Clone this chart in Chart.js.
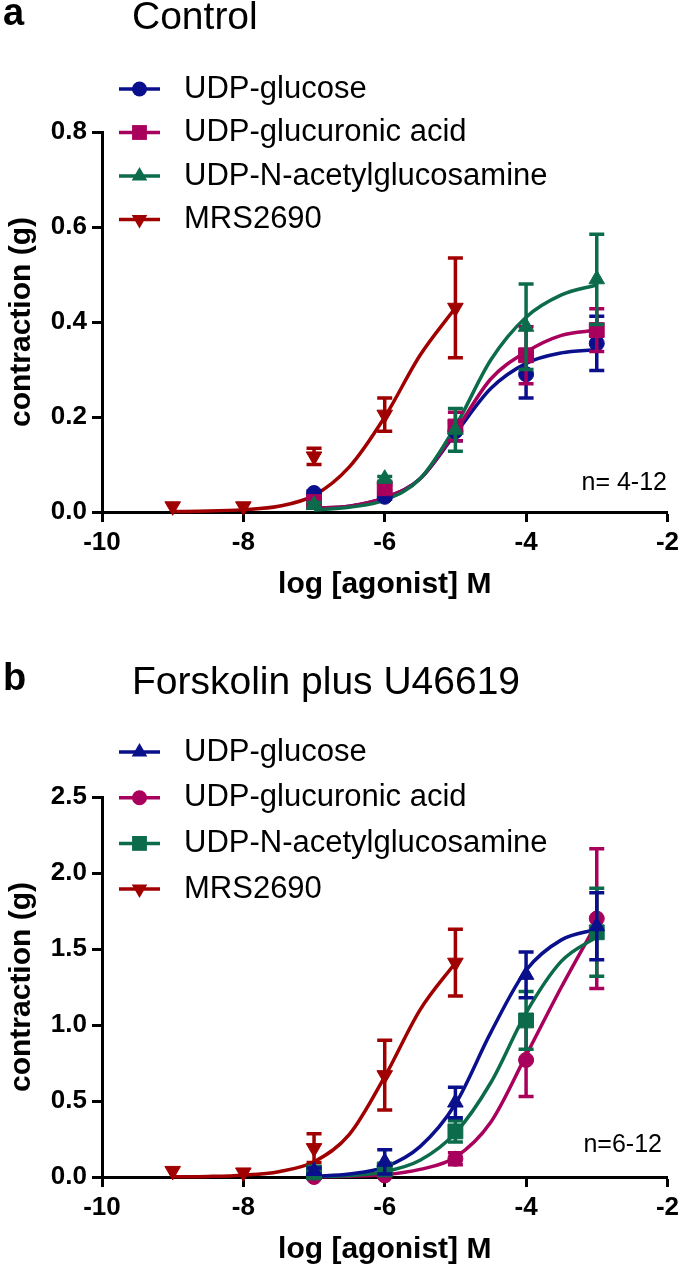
<!DOCTYPE html>
<html lang="en">
<head>
<meta charset="UTF-8">
<title>Contraction responses</title>
<script src="https://cdn.jsdelivr.net/npm/chart.js"></script>
<style>
  html, body { margin: 0; padding: 0; overflow: hidden; background: #fff; }
  body { width: 684px; height: 1267px; position: relative; font-family: "Liberation Sans", Arial, sans-serif; color: #000; }
  .panel { position: absolute; left: 0; width: 684px; height: 665px; }
  .panel canvas { position: absolute; left: 0; top: 0; }
  .letter { position: absolute; left: 3px; top: -7px; font-weight: bold; font-size: 38px; line-height: 38px; }
  .title { position: absolute; left: 132px; top: -4px; font-size: 39px; line-height: 39px; }
</style>
</head>
<body>
  <div class="panel" style="top:0">
    <canvas id="chartA" width="684" height="665"></canvas>
    <div class="letter">a</div>
    <div class="title">Control</div>
  </div>
  <div class="panel" style="top:665px">
    <canvas id="chartB" width="684" height="665"></canvas>
    <div class="letter">b</div>
    <div class="title">Forskolin plus U46619</div>
  </div>

<script>
const FONT = '"Liberation Sans", Arial, sans-serif';

// doses (log M)
const doses = [-7, -6, -5, -4, -3];
const mrsDoses = [-9, -8, -7, -6, -5];
const fitDoses = [-7, -6.5, -6, -5.5, -5, -4.5, -4, -3.5, -3];
const mrsFitDoses = [-9, -8.5, -8, -7.5, -7, -6.5, -6, -5.5, -5];

// tick labels
const xTickVals = [-10, -8, -6, -4, -2];
const yTickValsA = [0, 0.2, 0.4, 0.6, 0.8];
const yTickValsB = [0, 0.5, 1.0, 1.5, 2.0, 2.5];

// panel a: control
const aGlucose = [0.04, 0.032, 0.17, 0.29, 0.355];
const aGlucoseErr = [0.005, 0.005, 0.02, 0.05, 0.057];
const aGlucuronic = [0.021, 0.05, 0.18, 0.33, 0.383];
const aGlucuronicErr = [0.005, 0.008, 0.03, 0.06, 0.045];
const aNag = [0.015, 0.07, 0.173, 0.39, 0.49];
const aNagErr = [0.005, 0.005, 0.045, 0.09, 0.095];
const aMrs = [0.012, 0.012, 0.117, 0.205, 0.43];
const aMrsErr = [0, 0, 0.017, 0.035, 0.105];

const aGlucoseFit = [0.008, 0.012, 0.03, 0.07, 0.165, 0.26, 0.313, 0.335, 0.342];
const aGlucuronicFit = [0.008, 0.012, 0.03, 0.07, 0.17, 0.28, 0.337, 0.372, 0.383];
const aNagFit = [0.004, 0.01, 0.025, 0.07, 0.18, 0.32, 0.41, 0.457, 0.478];
const aMrsFit = [0.001, 0.002, 0.005, 0.012, 0.035, 0.095, 0.2, 0.33, 0.43];

// panel b: forskolin plus U46619
const bGlucose = [0.04, 0.1, 0.49, 1.33, 1.65];
const bGlucoseErr = [0.02, 0.08, 0.1, 0.15, 0.22];
const bGlucuronic = [0.0, 0.01, 0.12, 0.77, 1.70];
const bGlucuronicErr = [0, 0, 0.04, 0.24, 0.46];
const bNag = [0.03, 0.05, 0.30, 1.03, 1.61];
const bNagErr = [0.01, 0.02, 0.07, 0.19, 0.29];
const bMrs = [0.04, 0.03, 0.19, 0.67, 1.41];
const bMrsErr = [0, 0, 0.095, 0.23, 0.22];

const bGlucoseFit = [0.005, 0.02, 0.065, 0.2, 0.48, 0.95, 1.36, 1.56, 1.63];
const bGlucuronicFit = [0.001, 0.005, 0.015, 0.05, 0.13, 0.36, 0.8, 1.25, 1.67];
const bNagFit = [0.003, 0.01, 0.035, 0.11, 0.29, 0.62, 1.08, 1.42, 1.58];
const bMrsFit = [0.002, 0.004, 0.012, 0.035, 0.1, 0.28, 0.66, 1.1, 1.41];

const BLUE = '#0a0f8c';
const PINK = '#a8005c';
const GREEN = '#0b6b4a';
const RED = '#a00000';
const RADIUS = { circle: 7.5, rect: 10.5, triangle: 9 };

function pts(xs, ys) {
  return xs.map((x, i) => ({ x: x, y: ys[i] }));
}

// one marker dataset + one fitted curve dataset
function series(label, color, style, rot, xs, ys, errs, fxs, fys, order) {
  return [
    {
      type: 'scatter', label: label, data: pts(xs, ys), errors: errs,
      pointStyle: style, pointRotation: rot, pointRadius: RADIUS[style],
      backgroundColor: color, borderColor: color, pointBorderWidth: 1,
      order: order, clip: false
    },
    {
      type: 'line', data: pts(fxs, fys), borderColor: color, borderWidth: 3.5,
      pointRadius: 0, cubicInterpolationMode: 'monotone', fill: false,
      showLine: true, order: order + 10, clip: false
    }
  ];
}

function drawMarker(ctx, style, rot, r, x, y, color) {
  ctx.fillStyle = color;
  ctx.beginPath();
  if (style === 'circle') {
    ctx.arc(x, y, r, 0, Math.PI * 2);
  } else if (style === 'rect') {
    const s = r * Math.SQRT1_2;
    ctx.rect(x - s, y - s, 2 * s, 2 * s);
  } else {
    let a = (rot || 0) * Math.PI / 180;
    ctx.moveTo(x + Math.sin(a) * r, y - Math.cos(a) * r);
    a += Math.PI * 2 / 3;
    ctx.lineTo(x + Math.sin(a) * r, y - Math.cos(a) * r);
    a += Math.PI * 2 / 3;
    ctx.lineTo(x + Math.sin(a) * r, y - Math.cos(a) * r);
    ctx.closePath();
  }
  ctx.fill();
}

const errorBarPlugin = {
  id: 'errorBars',
  beforeDatasetDraw(chart, args) {
    const ds = chart.data.datasets[args.index];
    if (!ds.errors) return;
    const ctx = chart.ctx, x = chart.scales.x, y = chart.scales.y;
    ctx.save();
    ctx.strokeStyle = ds.borderColor;
    ctx.lineWidth = 3.5;
    ds.data.forEach((p, i) => {
      const e = ds.errors[i];
      if (!e) return;
      const px = x.getPixelForValue(p.x);
      const top = y.getPixelForValue(p.y + e);
      const bot = y.getPixelForValue(p.y - e);
      ctx.beginPath();
      ctx.moveTo(px, top); ctx.lineTo(px, bot);
      ctx.moveTo(px - 7.5, top); ctx.lineTo(px + 7.5, top);
      ctx.moveTo(px - 7.5, bot); ctx.lineTo(px + 7.5, bot);
      ctx.stroke();
    });
    ctx.restore();
  }
};

const legendPlugin = {
  id: 'sideLegend',
  afterDraw(chart, args, opts) {
    const ctx = chart.ctx;
    const items = chart.data.datasets.filter(d => d.label);
    ctx.save();
    items.forEach((d, i) => {
      const y = opts.y0 + i * opts.dy;
      ctx.strokeStyle = d.borderColor;
      ctx.lineWidth = 3.5;
      ctx.beginPath(); ctx.moveTo(119, y); ctx.lineTo(160, y); ctx.stroke();
      drawMarker(ctx, d.pointStyle, d.pointRotation, d.pointRadius, 139.5, y, d.backgroundColor);
      ctx.fillStyle = '#000';
      ctx.font = '31px ' + FONT;
      ctx.textAlign = 'left';
      ctx.textBaseline = 'middle';
      ctx.fillText(d.label, 184, y);
    });
    ctx.font = '25px ' + FONT;
    ctx.textAlign = 'right';
    ctx.textBaseline = 'alphabetic';
    ctx.fillText(opts.note, opts.noteX, opts.noteY);
    ctx.restore();
  }
};

function makePanel(id, datasets, yMax, yTicks, legendOpts) {
  const tickFont = { family: FONT, size: 26, weight: 'bold' };
  const titleFont = { family: FONT, size: 30, weight: 'bold' };
  const grid = { drawOnChartArea: false, drawTicks: true, tickLength: 10, tickWidth: 3, tickColor: '#000' };
  const border = { display: true, width: 3, color: '#000' };
  new Chart(document.getElementById(id), {
    type: 'scatter',
    data: { datasets: datasets },
    options: {
      responsive: false,
      animation: false,
      events: [],
      layout: { padding: { top: 132, right: 12, bottom: 62, left: 0 } },
      plugins: { legend: { display: false }, tooltip: { enabled: false }, sideLegend: legendOpts },
      scales: {
        x: {
          type: 'linear', min: -10, max: -2,
          afterBuildTicks: s => { s.ticks = xTickVals.map(v => ({ value: v })); },
          afterFit: s => { s.height = 91; },
          ticks: { color: '#000', font: tickFont, padding: 5, callback: v => String(v) },
          grid: grid, border: border,
          title: { display: true, text: 'log [agonist] M', color: '#000', font: titleFont, padding: 0 }
        },
        y: {
          type: 'linear', min: 0, max: yMax,
          afterBuildTicks: s => { s.ticks = yTicks.map(v => ({ value: v })); },
          afterFit: s => { s.width = 102; },
          ticks: { color: '#000', font: tickFont, padding: 5, callback: v => v.toFixed(1) },
          grid: grid, border: border,
          title: { display: true, text: 'contraction (g)', color: '#000', font: titleFont, padding: { top: 4, bottom: 0 } }
        }
      }
    },
    plugins: [errorBarPlugin, legendPlugin]
  });
}

// legend order = array order of labelled datasets; lower order draws on top
makePanel('chartA', [].concat(
  series('UDP-glucose', BLUE, 'circle', 0, doses, aGlucose, aGlucoseErr, fitDoses, aGlucoseFit, 3),
  series('UDP-glucuronic acid', PINK, 'rect', 0, doses, aGlucuronic, aGlucuronicErr, fitDoses, aGlucuronicFit, 2),
  series('UDP-N-acetylglucosamine', GREEN, 'triangle', 0, doses, aNag, aNagErr, fitDoses, aNagFit, 1),
  series('MRS2690', RED, 'triangle', 180, mrsDoses, aMrs, aMrsErr, mrsFitDoses, aMrsFit, 4)
), 0.8, yTickValsA, { y0: 89, dy: 43.5, note: 'n= 4-12', noteX: 667, noteY: 490 });

makePanel('chartB', [].concat(
  series('UDP-glucose', BLUE, 'triangle', 0, doses, bGlucose, bGlucoseErr, fitDoses, bGlucoseFit, 1),
  series('UDP-glucuronic acid', PINK, 'circle', 0, doses, bGlucuronic, bGlucuronicErr, fitDoses, bGlucuronicFit, 3),
  series('UDP-N-acetylglucosamine', GREEN, 'rect', 0, doses, bNag, bNagErr, fitDoses, bNagFit, 2),
  series('MRS2690', RED, 'triangle', 180, mrsDoses, bMrs, bMrsErr, mrsFitDoses, bMrsFit, 4)
), 2.5, yTickValsB, { y0: 87, dy: 45.7, note: 'n=6-12', noteX: 662, noteY: 487 });
</script>
</body>
</html>
